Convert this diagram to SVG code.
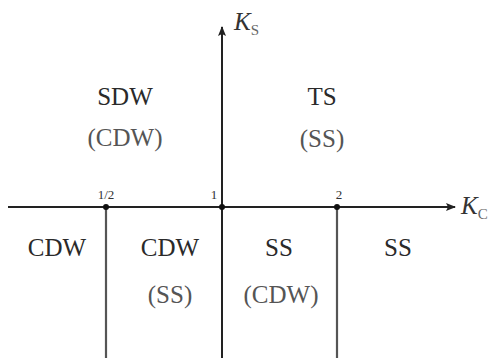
<svg xmlns="http://www.w3.org/2000/svg" width="502" height="363" viewBox="0 0 502 363">
<style>
text{font-family:'Liberation Serif','Times New Roman',Times,'DejaVu Serif',serif}
.ax{stroke:#222;stroke-width:2;fill:none}
.bd{stroke:#555;stroke-width:2.2;fill:none}
.lb{font-size:25px;fill:#2a2a2a;text-anchor:middle}
.pl{fill:#555}
.tk{font-size:13px;fill:#333;text-anchor:middle}
.var{font-style:italic;font-size:25px;fill:#333}
.sub{font-size:15px;font-style:normal;fill:#666}
</style>
<defs>
<marker id="ah" markerWidth="10" markerHeight="8" refX="9" refY="4" orient="auto" markerUnits="userSpaceOnUse">
<path d="M0,0 L10,4 L0,8 L2,4 Z" fill="#222"/>
</marker>
</defs>
<g id="connectors">
<line class="ax" x1="8" y1="207" x2="455" y2="207" marker-end="url(#ah)"/>
<line class="ax" x1="222" y1="358" x2="222" y2="27" marker-end="url(#ah)"/>
<line class="bd" x1="106" y1="207" x2="106" y2="358"/>
<line class="bd" x1="337" y1="207" x2="337" y2="358"/>
<circle cx="106" cy="207" r="3" fill="#111"/>
<circle cx="222" cy="207" r="3" fill="#111"/>
<circle cx="337" cy="207" r="3" fill="#111"/>
</g>
<g id="axis-labels">
<text class="var" x="234" y="30">K<tspan class="sub" dy="5">S</tspan></text>
<text class="var" x="461" y="214">K<tspan class="sub" dy="5">C</tspan></text>
<text class="tk" x="106" y="199">1/2</text>
<text class="tk" x="214" y="199">1</text>
<text class="tk" x="339" y="199">2</text>
</g>
<g id="region-sdw">
<text class="lb" x="125" y="105">SDW</text>
<text class="lb pl" x="125" y="146">(CDW)</text>
</g>
<g id="region-ts">
<text class="lb" x="322" y="105">TS</text>
<text class="lb pl" x="322" y="147">(SS)</text>
</g>
<g id="region-cdw-left">
<text class="lb" x="57" y="256">CDW</text>
</g>
<g id="region-cdw-ss">
<text class="lb" x="170" y="256">CDW</text>
<text class="lb pl" x="170" y="303">(SS)</text>
</g>
<g id="region-ss-cdw">
<text class="lb" x="279" y="256">SS</text>
<text class="lb pl" x="281" y="303">(CDW)</text>
</g>
<g id="region-ss-right">
<text class="lb" x="398" y="256">SS</text>
</g>
</svg>
